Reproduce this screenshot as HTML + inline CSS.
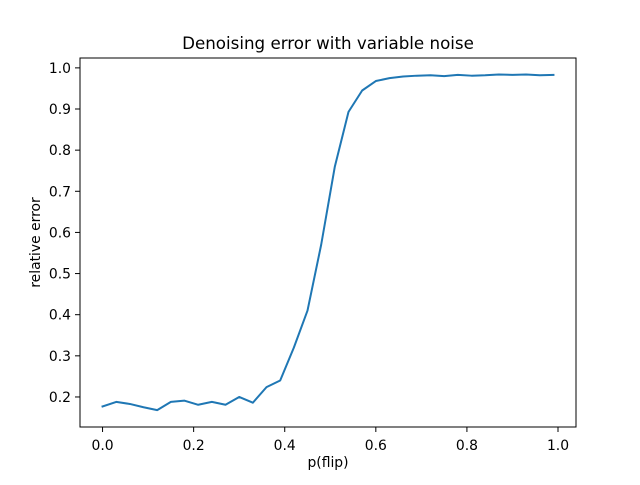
<!DOCTYPE html>
<html><head><meta charset="utf-8"><style>
body{margin:0;background:#fff;}
svg text{font-family:"DejaVu Sans","Liberation Sans",sans-serif;fill:#000;}
</style></head><body>
<svg width="640" height="480" xmlns="http://www.w3.org/2000/svg">
<rect width="640" height="480" fill="#fff"/>
<g id="plot"></g>
</svg>
<script>
const xValues=[0.00,0.03,0.06,0.09,0.12,0.15,0.18,0.21,0.24,0.27,0.30,0.33,0.36,0.39,0.42,0.45,0.48,0.51,0.54,0.57,0.60,0.63,0.66,0.69,0.72,0.75,0.78,0.81,0.84,0.87,0.90,0.93,0.96,0.99];
const errorValues=[0.177,0.188,0.183,0.175,0.168,0.188,0.191,0.181,0.188,0.181,0.200,0.186,0.224,0.240,0.320,0.410,0.570,0.760,0.893,0.945,0.968,0.975,0.979,0.981,0.982,0.980,0.983,0.981,0.982,0.984,0.983,0.984,0.982,0.983];
const xTicks=[0.0,0.2,0.4,0.6,0.8,1.0];
const yTicks=[0.2,0.3,0.4,0.5,0.6,0.7,0.8,0.9,1.0];
const L=80,R=576,T=58,B=427;
const xMin=-0.0495,xMax=1.0395,yMin=0.127,yMax=1.024;
const sx=v=>L+(v-xMin)/(xMax-xMin)*(R-L);
const sy=v=>B-(v-yMin)/(yMax-yMin)*(B-T);
const NS="http://www.w3.org/2000/svg";
const g=document.getElementById('plot');
function mk(tag,attrs,parent){const e=document.createElementNS(NS,tag);for(const k in attrs)e.setAttribute(k,attrs[k]);(parent||g).appendChild(e);return e;}
const line=mk('polyline',{points:xValues.map((x,i)=>sx(x)+','+sy(errorValues[i])).join(' '),fill:'none',stroke:'#1f77b4','stroke-width':2,'stroke-linejoin':'round','stroke-linecap':'square'});


const frame=mk('rect',{x:L,y:T,width:R-L,height:B-T,fill:'none',stroke:'#000','stroke-width':1});


xTicks.forEach(t=>{const x=sx(t);
 mk('line',{x1:x,x2:x,y1:B,y2:B+5,stroke:'#000','stroke-width':1});
 const tx=mk('text',{x:x,y:B+23,'text-anchor':'middle','font-size':13.9});tx.textContent=t.toFixed(1);
 
 });
yTicks.forEach(t=>{const y=sy(t);
 mk('line',{x1:L-5,x2:L,y1:y,y2:y,stroke:'#000','stroke-width':1});
 const tx=mk('text',{x:L-9,y:y+5,'text-anchor':'end','font-size':13.9});tx.textContent=t.toFixed(1);
 
 });
const title=mk('text',{x:(L+R)/2,y:49,'text-anchor':'middle','font-size':16.7});title.textContent='Denoising error with variable noise';


const xl=mk('text',{x:(L+R)/2,y:467,'text-anchor':'middle','font-size':13.9});xl.textContent='p(flip)';


const yl=mk('text',{x:0,y:0,'text-anchor':'middle','font-size':13.9,transform:'translate(40,'+((T+B)/2)+') rotate(-90)'});yl.textContent='relative error';


</script>
</body></html>
